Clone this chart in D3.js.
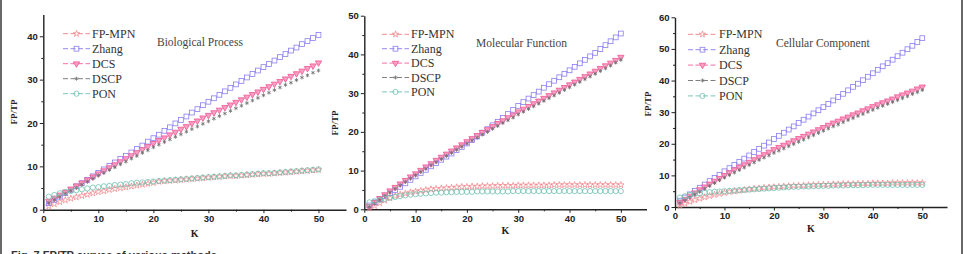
<!DOCTYPE html>
<html>
<head>
<meta charset="utf-8">
<script src="https://cdn.jsdelivr.net/npm/d3@7"></script>
<style>
  body { margin: 0; background: #fff; }
  svg { display: block; }
</style>
</head>
<body>
<script>
var WIDTH = 971;
var HEIGHT = 254;

var K = d3.range(1, 51);
var seriesNames = ["FP-MPN", "Zhang", "DCS", "DSCP", "PON"];
var panelTitles = ["Biological Process", "Molecular Function", "Cellular Component"];
var yMax = [45, 50, 60];
var yTicks = [[0, 10, 20, 30, 40], [0, 10, 20, 30, 40, 50], [0, 10, 20, 30, 40, 50, 60]];
var xTicks = [0, 10, 20, 30, 40, 50];

// Biological Process
var bpFpmpn = [0.8, 1.3, 1.8, 2.2, 2.6, 2.9, 3.2, 3.5, 3.8, 4.1,
  4.3, 4.6, 4.8, 5.0, 5.2, 5.4, 5.6, 5.8, 6.0, 6.2,
  6.5, 6.6, 6.7, 6.8, 6.9, 7.0, 7.1, 7.2, 7.3, 7.4,
  7.5, 7.6, 7.7, 7.8, 7.8, 7.9, 8.0, 8.1, 8.2, 8.3,
  8.3, 8.4, 8.5, 8.6, 8.7, 8.8, 8.9, 9.0, 9.1, 9.2];
var bpZhang = [1.5, 2.3, 3.0, 3.8, 4.6, 5.4, 6.1, 6.9, 7.7, 8.5,
  9.3, 10.1, 10.9, 11.7, 12.4, 13.2, 14.0, 14.8, 15.7, 16.5,
  17.3, 18.2, 19.0, 19.9, 20.7, 21.5, 22.4, 23.2, 24.1, 24.9,
  25.7, 26.5, 27.3, 28.1, 28.9, 29.7, 30.5, 31.3, 32.1, 32.9,
  33.6, 34.4, 35.2, 35.9, 36.7, 37.4, 38.2, 38.9, 39.6, 40.3];
var bpDcs = [2.0, 2.7, 3.4, 4.1, 4.8, 5.5, 6.2, 6.9, 7.6, 8.3,
  9.0, 9.7, 10.4, 11.1, 11.8, 12.5, 13.2, 13.9, 14.6, 15.3,
  16.0, 16.6, 17.3, 17.9, 18.6, 19.2, 19.9, 20.5, 21.2, 21.8,
  22.4, 23.0, 23.6, 24.2, 24.8, 25.4, 26.0, 26.6, 27.2, 27.8,
  28.4, 29.0, 29.6, 30.2, 30.8, 31.4, 32.0, 32.6, 33.2, 33.9];
var bpDscp = [1.6, 2.3, 3.0, 3.7, 4.4, 5.1, 5.8, 6.5, 7.2, 7.9,
  8.5, 9.2, 9.8, 10.5, 11.1, 11.8, 12.4, 13.1, 13.7, 14.4,
  15.0, 15.6, 16.2, 16.8, 17.4, 18.0, 18.6, 19.2, 19.8, 20.4,
  21.0, 21.6, 22.2, 22.8, 23.4, 24.0, 24.6, 25.2, 25.8, 26.4,
  27.0, 27.6, 28.2, 28.8, 29.3, 29.9, 30.5, 31.0, 31.6, 32.1];
var bpPon = [3.0, 3.4, 3.8, 4.1, 4.3, 4.5, 4.7, 4.9, 5.1, 5.2,
  5.4, 5.5, 5.7, 5.8, 5.9, 6.1, 6.2, 6.3, 6.4, 6.5,
  6.6, 6.7, 6.8, 6.9, 7.0, 7.1, 7.2, 7.3, 7.4, 7.5,
  7.6, 7.7, 7.8, 7.9, 7.9, 8.0, 8.1, 8.2, 8.3, 8.4,
  8.4, 8.5, 8.6, 8.7, 8.8, 8.9, 9.0, 9.1, 9.2, 9.3];

// Molecular Function
var mfFpmpn = [0.3, 0.9, 1.6, 2.3, 2.9, 3.4, 3.8, 4.1, 4.4, 4.6,
  4.8, 5.0, 5.2, 5.3, 5.4, 5.5, 5.6, 5.7, 5.8, 5.8,
  5.9, 5.9, 6.0, 6.0, 6.0, 6.1, 6.1, 6.1, 6.1, 6.2,
  6.2, 6.2, 6.2, 6.2, 6.2, 6.2, 6.3, 6.3, 6.3, 6.3,
  6.3, 6.3, 6.3, 6.3, 6.3, 6.3, 6.3, 6.3, 6.3, 6.3];
var mfZhang = [1.0, 1.8, 2.6, 3.4, 4.2, 5.0, 5.8, 6.7, 7.6, 8.5,
  9.4, 10.2, 11.1, 11.9, 12.8, 13.6, 14.4, 15.3, 16.1, 17.0,
  17.9, 18.8, 19.8, 20.7, 21.7, 22.6, 23.6, 24.6, 25.7, 26.7,
  27.7, 28.6, 29.5, 30.4, 31.4, 32.3, 33.2, 34.1, 35.0, 35.9,
  36.8, 37.7, 38.6, 39.5, 40.4, 41.4, 42.4, 43.4, 44.4, 45.4];
var mfDcs = [0.8, 1.8, 2.8, 3.8, 4.8, 5.7, 6.6, 7.5, 8.4, 9.2,
  10.1, 11.0, 11.8, 12.7, 13.5, 14.3, 15.1, 15.9, 16.7, 17.5,
  18.3, 19.1, 19.9, 20.6, 21.4, 22.2, 22.9, 23.7, 24.4, 25.2,
  25.9, 26.6, 27.3, 28.0, 28.7, 29.4, 30.1, 30.8, 31.5, 32.2,
  32.9, 33.6, 34.3, 35.0, 35.7, 36.4, 37.1, 37.8, 38.5, 39.3];
var mfDscp = [0.6, 1.5, 2.5, 3.5, 4.4, 5.3, 6.2, 7.1, 8.0, 8.8,
  9.7, 10.5, 11.4, 12.2, 13.0, 13.8, 14.6, 15.4, 16.2, 17.0,
  17.8, 18.5, 19.3, 20.0, 20.8, 21.5, 22.3, 23.0, 23.7, 24.5,
  25.2, 25.9, 26.6, 27.3, 28.0, 28.7, 29.4, 30.1, 30.8, 31.5,
  32.2, 32.9, 33.6, 34.3, 35.0, 35.7, 36.4, 37.1, 37.9, 38.6];
var mfPon = [1.8, 2.1, 2.4, 2.7, 3.0, 3.2, 3.4, 3.6, 3.8, 3.9,
  4.0, 4.1, 4.2, 4.3, 4.3, 4.4, 4.4, 4.5, 4.5, 4.5,
  4.5, 4.6, 4.6, 4.6, 4.6, 4.6, 4.6, 4.6, 4.7, 4.7,
  4.7, 4.7, 4.7, 4.7, 4.7, 4.7, 4.7, 4.7, 4.7, 4.7,
  4.7, 4.7, 4.7, 4.7, 4.7, 4.7, 4.7, 4.7, 4.7, 4.7];

// Cellular Component
var ccFpmpn = [0.5, 1.1, 1.7, 2.2, 2.7, 3.1, 3.5, 3.9, 4.2, 4.5,
  4.8, 5.0, 5.2, 5.4, 5.6, 5.8, 5.9, 6.1, 6.2, 6.3,
  6.4, 6.5, 6.6, 6.7, 6.8, 6.8, 6.9, 7.0, 7.0, 7.1,
  7.1, 7.2, 7.2, 7.3, 7.3, 7.3, 7.4, 7.4, 7.4, 7.5,
  7.5, 7.5, 7.5, 7.6, 7.6, 7.6, 7.6, 7.6, 7.6, 7.6];
var ccZhang = [2.0, 3.0, 4.0, 5.1, 6.1, 7.1, 8.2, 9.2, 10.2, 11.3,
  12.3, 13.3, 14.3, 15.3, 16.3, 17.4, 18.4, 19.4, 20.4, 21.5,
  22.5, 23.5, 24.5, 25.5, 26.6, 27.6, 28.6, 29.6, 30.6, 31.6,
  32.6, 33.7, 34.8, 35.8, 36.9, 38.0, 39.0, 40.1, 41.2, 42.3,
  43.4, 44.5, 45.5, 46.6, 47.7, 48.8, 49.9, 51.0, 52.2, 53.4];
var ccDcs = [1.5, 2.5, 3.5, 4.5, 5.5, 6.4, 7.3, 8.2, 9.1, 10.0,
  10.9, 11.8, 12.6, 13.4, 14.2, 15.0, 15.8, 16.6, 17.4, 18.2,
  18.9, 19.6, 20.3, 21.0, 21.7, 22.4, 23.1, 23.8, 24.5, 25.2,
  25.9, 26.6, 27.2, 27.9, 28.5, 29.2, 29.8, 30.5, 31.1, 31.8,
  32.4, 33.0, 33.6, 34.2, 34.9, 35.5, 36.1, 36.7, 37.4, 38.0];
var ccDscp = [1.3, 2.2, 3.1, 4.0, 4.9, 5.8, 6.7, 7.6, 8.5, 9.3,
  10.1, 10.9, 11.7, 12.5, 13.3, 14.1, 14.9, 15.6, 16.3, 17.1,
  17.8, 18.5, 19.2, 19.9, 20.6, 21.3, 22.0, 22.7, 23.4, 24.1,
  24.8, 25.5, 26.1, 26.8, 27.5, 28.1, 28.8, 29.4, 30.1, 30.7,
  31.4, 32.0, 32.6, 33.2, 33.8, 34.4, 35.0, 35.7, 36.3, 37.0];
var ccPon = [3.0, 3.4, 3.8, 4.1, 4.3, 4.5, 4.7, 4.8, 4.9, 5.0,
  5.1, 5.2, 5.3, 5.4, 5.5, 5.6, 5.7, 5.8, 5.9, 6.0,
  6.1, 6.2, 6.3, 6.4, 6.4, 6.5, 6.5, 6.6, 6.6, 6.7,
  6.7, 6.8, 6.8, 6.8, 6.9, 6.9, 6.9, 6.9, 7.0, 7.0,
  7.0, 7.0, 7.0, 7.0, 7.0, 7.0, 7.0, 7.0, 7.0, 7.0];

var panelData = [
  [bpFpmpn, bpZhang, bpDcs, bpDscp, bpPon],
  [mfFpmpn, mfZhang, mfDcs, mfDscp, mfPon],
  [ccFpmpn, ccZhang, ccDcs, ccDscp, ccPon]
];

// layout of each panel (pixel frame of the plot area)
var frames = [
  {x0: 43.3, x1: 346, yTop: 14.6, yBot: 209.7, title: [157, 42], legend: [63, 90, 33.7, 15], ylab: [17, 112], klab: 237},
  {x0: 364.3, x1: 646.5, yTop: 15.7, yBot: 209.3, title: [476, 43.3], legend: [382, 409, 34.3, 14.4], ylab: [338, 123], klab: 234},
  {x0: 675, x1: 947, yTop: 17.3, yBot: 207, title: [776, 42.7], legend: [688, 717, 34.3, 15.4], ylab: [651, 104], klab: 232}
];

var colors = ["#f07f85", "#8a7ef0", "#f0609a", "#707070", "#6fc0b0"];

var svg = d3.select("body")
  .append("svg")
  .attr("width", WIDTH)
  .attr("height", HEIGHT)
  .style("font-family", "'Liberation Sans', Arial, sans-serif");

// figure frame
svg.append("rect")
  .attr("x", 1).attr("y", -12)
  .attr("width", 961).attr("height", 300)
  .attr("rx", 9)
  .attr("fill", "none")
  .attr("stroke", "#444")
  .attr("stroke-width", 1.6);

function drawMarker(g, i, x, y) {
  var c = colors[i];
  if (i == 0) {
    g.append("path").attr("d", d3.symbol(d3.symbolStar, 13)())
      .attr("transform", "translate(" + x + "," + y + ")")
      .attr("fill", "none").attr("stroke", c).attr("stroke-width", 0.7);
  } else if (i == 1) {
    g.append("rect").attr("x", x - 2.4).attr("y", y - 2.4)
      .attr("width", 4.8).attr("height", 4.8)
      .attr("fill", "none").attr("stroke", c).attr("stroke-width", 0.8);
  } else if (i == 2) {
    g.append("path").attr("d", d3.symbol(d3.symbolTriangle, 17)())
      .attr("transform", "translate(" + x + "," + y + ") rotate(180)")
      .attr("fill", "#f7a0c4").attr("stroke", c).attr("stroke-width", 0.9);
  } else if (i == 3) {
    g.append("path").attr("d", d3.symbol(d3.symbolAsterisk, 11)())
      .attr("transform", "translate(" + x + "," + y + ")")
      .attr("fill", "none").attr("stroke", c).attr("stroke-width", 0.8);
  } else {
    g.append("circle").attr("cx", x).attr("cy", y).attr("r", 2.6)
      .attr("fill", "none").attr("stroke", c).attr("stroke-width", 0.8);
  }
}

frames.forEach(function (f, p) {
  var x = d3.scaleLinear().domain([0, 55]).range([f.x0, f.x1]);
  var y = d3.scaleLinear().domain([0, yMax[p]]).range([f.yBot, f.yTop]);
  var g = svg.append("g");

  // minor ticks
  var xMinor = d3.axisBottom(x).tickValues(d3.range(5, 55, 10)).tickSize(2).tickFormat("");
  var yMinor = d3.axisLeft(y).tickValues(d3.range(5, yMax[p], 10)).tickSize(2).tickFormat("");
  g.append("g").attr("transform", "translate(0," + f.yBot + ")").call(xMinor)
    .call(function (a) { a.select(".domain").remove(); a.selectAll("line").attr("stroke", "#222"); });
  g.append("g").attr("transform", "translate(" + f.x0 + ",0)").call(yMinor)
    .call(function (a) { a.select(".domain").remove(); a.selectAll("line").attr("stroke", "#222"); });

  var xAxis = d3.axisBottom(x).tickValues(xTicks).tickSize(3.5).tickSizeOuter(0).tickPadding(2);
  var yAxis = d3.axisLeft(y).tickValues(yTicks[p]).tickSize(3.5).tickSizeOuter(0).tickPadding(2);
  g.append("g").attr("transform", "translate(0," + f.yBot + ")").call(xAxis)
    .call(function (a) {
      a.select(".domain").attr("stroke", "#222").attr("stroke-width", 1.4);
      a.selectAll("line").attr("stroke", "#222");
      a.selectAll("text").attr("font-size", 9.5).attr("font-weight", "bold").attr("fill", "#222");
    });
  g.append("g").attr("transform", "translate(" + f.x0 + ",0)").call(yAxis)
    .call(function (a) {
      a.select(".domain").attr("stroke", "#222").attr("stroke-width", 1.4);
      a.selectAll("line").attr("stroke", "#222");
      a.selectAll("text").attr("font-size", 9.5).attr("font-weight", "bold").attr("fill", "#222");
    });

  // axis labels
  g.append("text").attr("x", x(27.5)).attr("y", f.klab)
    .attr("text-anchor", "middle").attr("font-family", "'Liberation Serif', serif")
    .attr("font-weight", "bold").attr("font-size", 10).attr("fill", "#222").text("K");
  g.append("text").attr("transform", "translate(" + f.ylab[0] + "," + f.ylab[1] + ") rotate(-90)")
    .attr("text-anchor", "middle").attr("font-family", "'Liberation Serif', serif")
    .attr("font-weight", "bold").attr("font-size", 9).attr("fill", "#222").text("FP/TP");

  // title
  g.append("text").attr("x", f.title[0]).attr("y", f.title[1] + 4)
    .attr("font-family", "'Liberation Serif', serif").attr("font-size", 11.5)
    .attr("fill", "#444").text(panelTitles[p]);

  // markers
  panelData[p].forEach(function (vals, i) {
    var sg = g.append("g");
    vals.forEach(function (v, j) {
      drawMarker(sg, i, x(K[j]), y(v));
    });
  });

  // legend
  seriesNames.forEach(function (name, i) {
    var ly = f.legend[2] + i * f.legend[3];
    var lg = g.append("g");
    lg.append("line").attr("x1", f.legend[0]).attr("x2", f.legend[1])
      .attr("y1", ly).attr("y2", ly)
      .attr("stroke", colors[i]).attr("stroke-width", 0.9).attr("stroke-dasharray", "5,2.5");
    drawMarker(lg, i, (f.legend[0] + f.legend[1]) / 2, ly);
    lg.append("text").attr("x", f.legend[1] + 2).attr("y", ly + 4)
      .attr("font-family", "'Liberation Serif', serif").attr("font-size", 12)
      .attr("fill", "#333").text(name);
  });
});

// caption (cut off at the bottom of the picture, as in the source figure)
svg.append("text").attr("x", 11).attr("y", 259)
  .attr("font-size", 11).attr("font-weight", "bold").attr("fill", "#333")
  .text("Fig. 7 FP/TP curves of various methods");
</script>
</body>
</html>
